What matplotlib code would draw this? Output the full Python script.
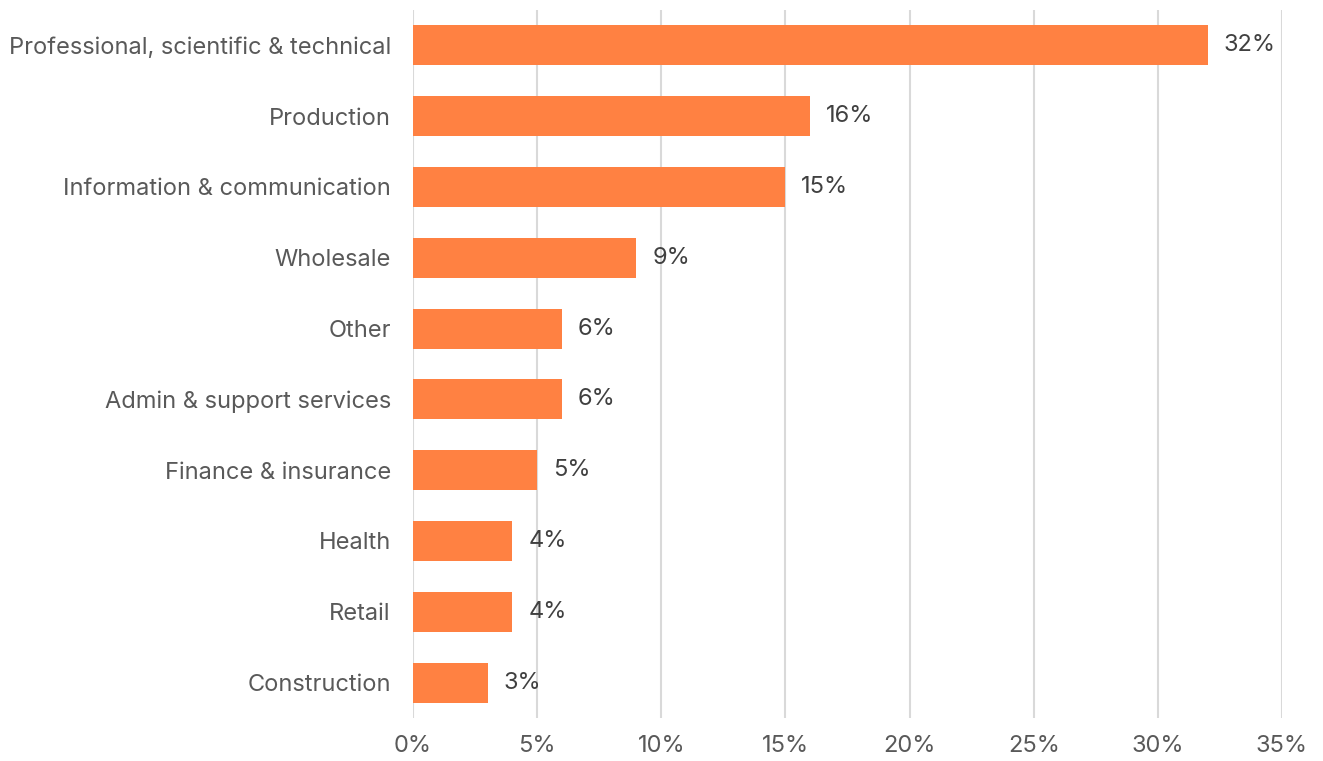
import matplotlib
matplotlib.use('Agg')
import matplotlib.pyplot as plt

plt.rcParams['font.family'] = ['Inter', 'DejaVu Sans']

sectors = ['Professional, scientific & technical', 'Production',
           'Information & communication', 'Wholesale', 'Other',
           'Admin & support services', 'Finance & insurance', 'Health',
           'Retail', 'Construction']
shares = [32, 16, 15, 9, 6, 6, 5, 4, 4, 3]
ticks = [0, 5, 10, 15, 20, 25, 30, 35]

fig = plt.figure(figsize=(13.23, 7.61), dpi=100)
ax = fig.add_axes([0.3122, 0.0565, 0.969 - 0.3122, 0.9869 - 0.0565])

pos = list(range(len(sectors)))
ax.barh(pos, shares, height=0.565, color='#FF8142', zorder=3)
for p, v in zip(pos, shares):
    ax.annotate('{}%'.format(v), (v, p), xytext=(11.5, 0),
                textcoords='offset points', va='center', ha='left',
                fontsize=17, color='#404040')

ax.set_xlim(0, 35)
ax.set_ylim(len(sectors) - 0.5, -0.5)
ax.set_xticks(ticks)
ax.set_xticklabels(['{}%'.format(t) for t in ticks])
ax.set_yticks(pos)
ax.set_yticklabels(sectors)
ax.tick_params(axis='both', length=0, labelsize=17, labelcolor='#595959')
ax.tick_params(axis='y', pad=16)
ax.tick_params(axis='x', pad=12)
ax.grid(axis='x', color='#d9d9d9', linewidth=1.5, zorder=0)
for s in ax.spines.values():
    s.set_visible(False)

fig.savefig('out.png', dpi=100)
